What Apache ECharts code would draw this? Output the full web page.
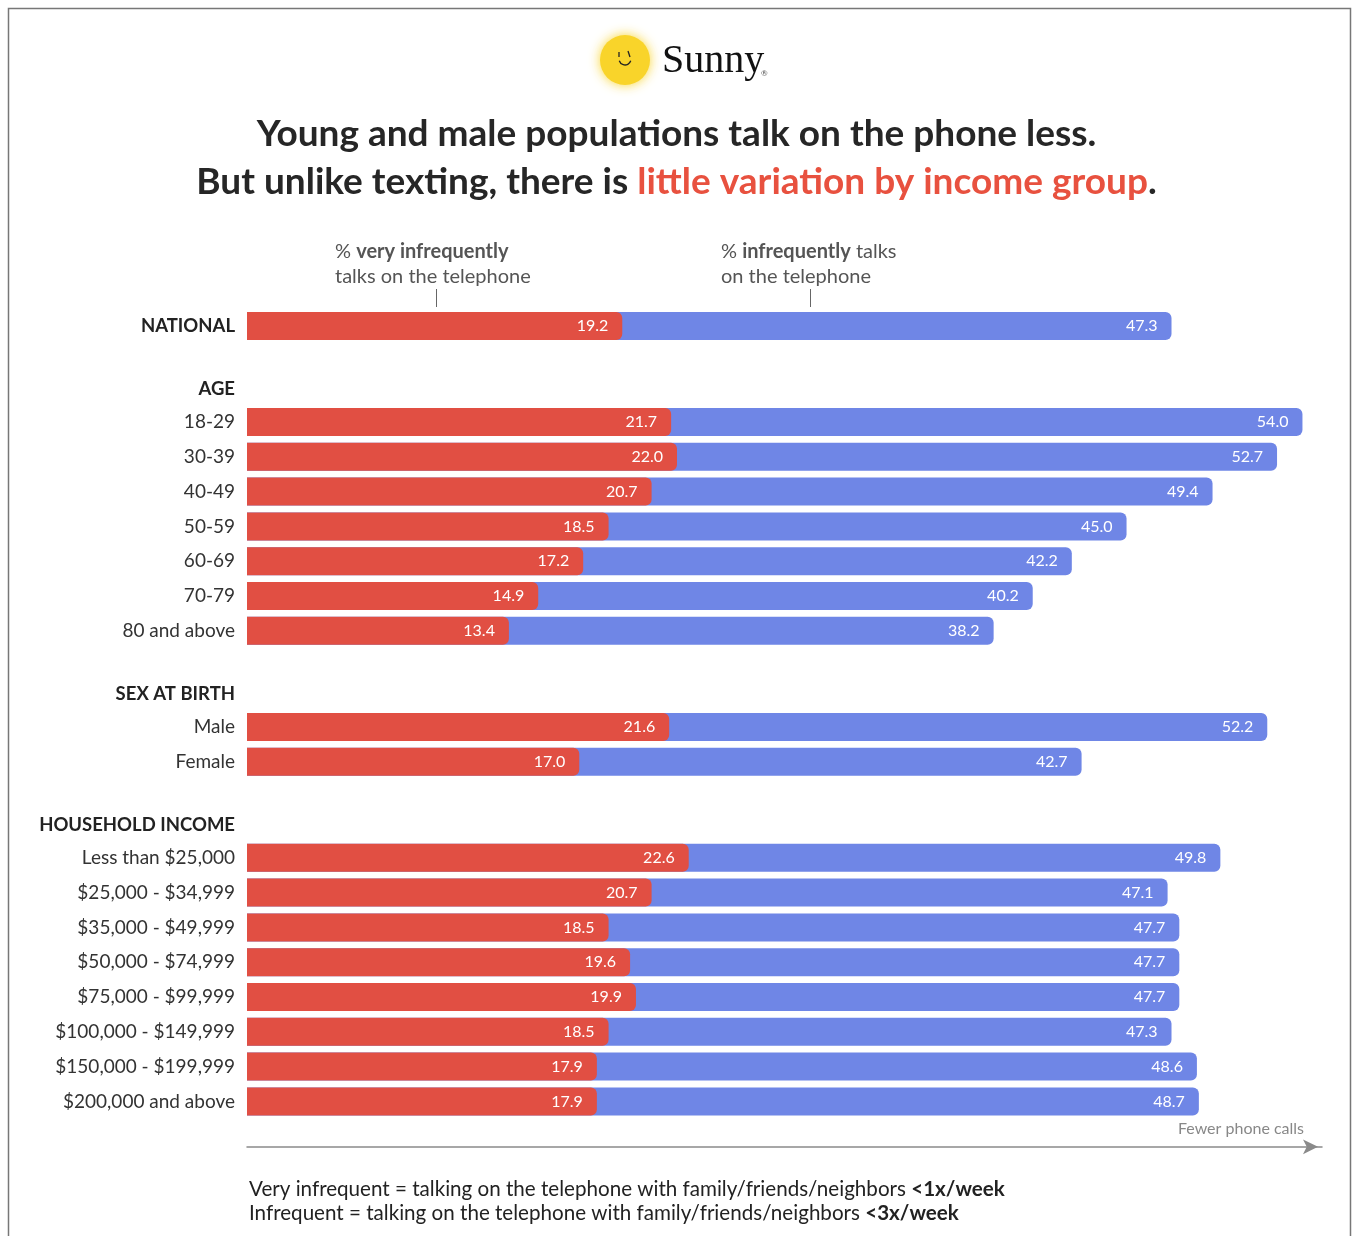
<!DOCTYPE html>
<html>
<head>
<meta charset="utf-8">
<script src="https://cdn.jsdelivr.net/npm/echarts@6/dist/echarts.min.js"></script>
<style>
  html, body { margin: 0; padding: 0; background: #fff; }
  #chart { width: 1353px; height: 1236px; }
</style>
</head>
<body>
<div id="chart"></div>
<script>
// Share of people who talk on the phone very infrequently / infrequently, by group
const nationalLabels = ['NATIONAL'];
const nationalVery = [19.2];
const nationalInfreq = [47.3];

const ageLabels = ['18-29', '30-39', '40-49', '50-59', '60-69', '70-79', '80 and above'];
const ageVery = [21.7, 22.0, 20.7, 18.5, 17.2, 14.9, 13.4];
const ageInfreq = [54.0, 52.7, 49.4, 45.0, 42.2, 40.2, 38.2];

const sexLabels = ['Male', 'Female'];
const sexVery = [21.6, 17.0];
const sexInfreq = [52.2, 42.7];

const incomeLabels = ['Less than $25,000', '$25,000 - $34,999', '$35,000 - $49,999', '$50,000 - $74,999',
  '$75,000 - $99,999', '$100,000 - $149,999', '$150,000 - $199,999', '$200,000 and above'];
const incomeVery = [22.6, 20.7, 18.5, 19.6, 19.9, 18.5, 17.9, 17.9];
const incomeInfreq = [49.8, 47.1, 47.7, 47.7, 47.7, 47.3, 48.6, 48.7];

const sectionTitles = ['AGE', 'SEX AT BIRTH', 'HOUSEHOLD INCOME'];

const RED = '#E14F43';
const BLUE = '#6F86E6';
const FONT = 'Lato, "Open Sans", sans-serif';
const ROW = 34.8;
const XMAX = 55;
const PLOT_LEFT = 247;
const PLOT_W = 1075;

const sections = [
  { labels: nationalLabels, very: nationalVery, infreq: nationalInfreq, top: 308.6, bold: true },
  { labels: ageLabels, very: ageVery, infreq: ageInfreq, top: 404.6 },
  { labels: sexLabels, very: sexVery, infreq: sexInfreq, top: 709.6 },
  { labels: incomeLabels, very: incomeVery, infreq: incomeInfreq, top: 840.4, axis: true }
];

const grids = [], xAxes = [], yAxes = [], series = [];
const valueLabel = {
  show: true, position: 'insideRight', distance: 14,
  color: '#fff', fontFamily: FONT, fontSize: 16,
  formatter: p => p.value.toFixed(1)
};

sections.forEach((s, i) => {
  grids.push({ left: PLOT_LEFT, width: PLOT_W, top: s.top, height: ROW * s.labels.length });
  xAxes.push({
    gridIndex: i, type: 'value', min: 0, max: XMAX,
    splitLine: { show: false }, axisLabel: { show: false }, axisTick: { show: false },
    axisLine: s.axis ? {
      show: true, onZero: false, symbol: ['none', 'arrow'], symbolSize: [11, 15], symbolOffset: [0, -4],
      lineStyle: { color: '#8a8a8a', width: 1.5 }
    } : { show: false },
    position: 'bottom', offset: s.axis ? 28 : 0
  });
  yAxes.push({
    gridIndex: i, type: 'category', data: s.labels, inverse: true,
    axisLine: { show: false }, axisTick: { show: false },
    axisLabel: {
      margin: 12, fontFamily: FONT, fontSize: s.bold ? 18.5 : 19,
      color: s.bold ? '#222' : '#333', fontWeight: s.bold ? 'bold' : 'normal'
    }
  });
  series.push({
    type: 'bar', xAxisIndex: i, yAxisIndex: i, data: s.infreq,
    barWidth: 28, barGap: '-100%',
    itemStyle: { color: BLUE, borderRadius: [0, 6, 6, 0] },
    label: valueLabel, silent: true, animation: false
  });
  series.push({
    type: 'bar', xAxisIndex: i, yAxisIndex: i, data: s.very,
    barWidth: 28, barGap: '-100%',
    itemStyle: { color: RED, borderRadius: [0, 6, 6, 0] },
    label: valueLabel, silent: true, animation: false
  });
});

const headerY = [389, 694, 825];
const graphic = [
  // page frame
  { type: 'rect', shape: { x: 8.5, y: 8.5, width: 1342, height: 1260 }, style: { fill: 'none', stroke: '#777', lineWidth: 1.5 }, silent: true },
  // logo: sun with a small face
  { type: 'circle', shape: { cx: 625, cy: 60, r: 25 }, style: { fill: '#F9D42A', shadowBlur: 12, shadowColor: 'rgba(249,212,42,0.95)' } },
  { type: 'line', shape: { x1: 619, y1: 52, x2: 619, y2: 57 }, style: { stroke: '#222', lineWidth: 1.3 } },
  { type: 'line', shape: { x1: 628, y1: 51, x2: 630, y2: 57 }, style: { stroke: '#222', lineWidth: 1.3 } },
  { type: 'arc', shape: { cx: 625, cy: 59, r: 6, startAngle: 0.3, endAngle: Math.PI - 0.3 }, style: { stroke: '#222', lineWidth: 1.3, fill: 'none' } },
  { type: 'text', x: 662, y: 81, style: { text: 'Sunny', font: '400 40px "Liberation Serif", "DejaVu Serif", serif', fill: '#111', textVerticalAlign: 'bottom' } },
  { type: 'text', x: 761, y: 69, style: { text: '®', font: '8px ' + FONT, fill: '#555' } },
  // series annotations
  { type: 'text', x: 335, y: 264, style: {
      text: '{n|% }{b|very infrequently}\n{n|talks on the telephone}', textVerticalAlign: 'middle',
      rich: { n: { font: '20px ' + FONT, fill: '#555', lineHeight: 25 }, b: { font: 'bold 20px ' + FONT, fill: '#555', lineHeight: 25 } } } },
  { type: 'line', shape: { x1: 436.5, y1: 289, x2: 436.5, y2: 307 }, style: { stroke: '#666', lineWidth: 1 } },
  { type: 'text', x: 721, y: 264, style: {
      text: '{n|% }{b|infrequently}{n| talks}\n{n|on the telephone}', textVerticalAlign: 'middle',
      rich: { n: { font: '20px ' + FONT, fill: '#555', lineHeight: 25 }, b: { font: 'bold 20px ' + FONT, fill: '#555', lineHeight: 25 } } } },
  { type: 'line', shape: { x1: 810.5, y1: 289, x2: 810.5, y2: 307 }, style: { stroke: '#666', lineWidth: 1 } },
  // axis direction note
  { type: 'text', x: 1304, y: 1129, style: { text: 'Fewer phone calls', font: '16px ' + FONT, fill: '#888', textAlign: 'right', textVerticalAlign: 'middle' } },
  // definitions
  { type: 'text', x: 249, y: 1201, style: {
      text: '{n|Very infrequent = talking on the telephone with family/friends/neighbors }{b|<1x/week}\n{n|Infrequent = talking on the telephone with family/friends/neighbors }{b|<3x/week}',
      textVerticalAlign: 'middle',
      rich: { n: { font: '20.6px ' + FONT, fill: '#222', lineHeight: 24 }, b: { font: 'bold 20.6px ' + FONT, fill: '#222', lineHeight: 24 } } } }
];
sectionTitles.forEach((t, i) => {
  graphic.push({ type: 'text', x: 235, y: headerY[i], style: { text: t, font: 'bold 18.5px ' + FONT, fill: '#222', textAlign: 'right', textVerticalAlign: 'middle' } });
});

const chart = echarts.init(document.getElementById('chart'), null, { renderer: 'canvas' });
chart.setOption({
  animation: false,
  backgroundColor: '#fff',
  title: {
    left: 'center', top: 105,
    text: '{a|Young and male populations talk on the phone less.}\n{a|But unlike texting, there is }{r|little variation by income group}{a|.}',
    textStyle: {
      rich: {
        a: { fontFamily: FONT, fontWeight: 'bold', fontSize: 37, color: '#262626', lineHeight: 48 },
        r: { fontFamily: FONT, fontWeight: 'bold', fontSize: 37, color: '#E8513F', lineHeight: 48 }
      }
    }
  },
  grid: grids, xAxis: xAxes, yAxis: yAxes, series: series, graphic: graphic
});
</script>
</body>
</html>
